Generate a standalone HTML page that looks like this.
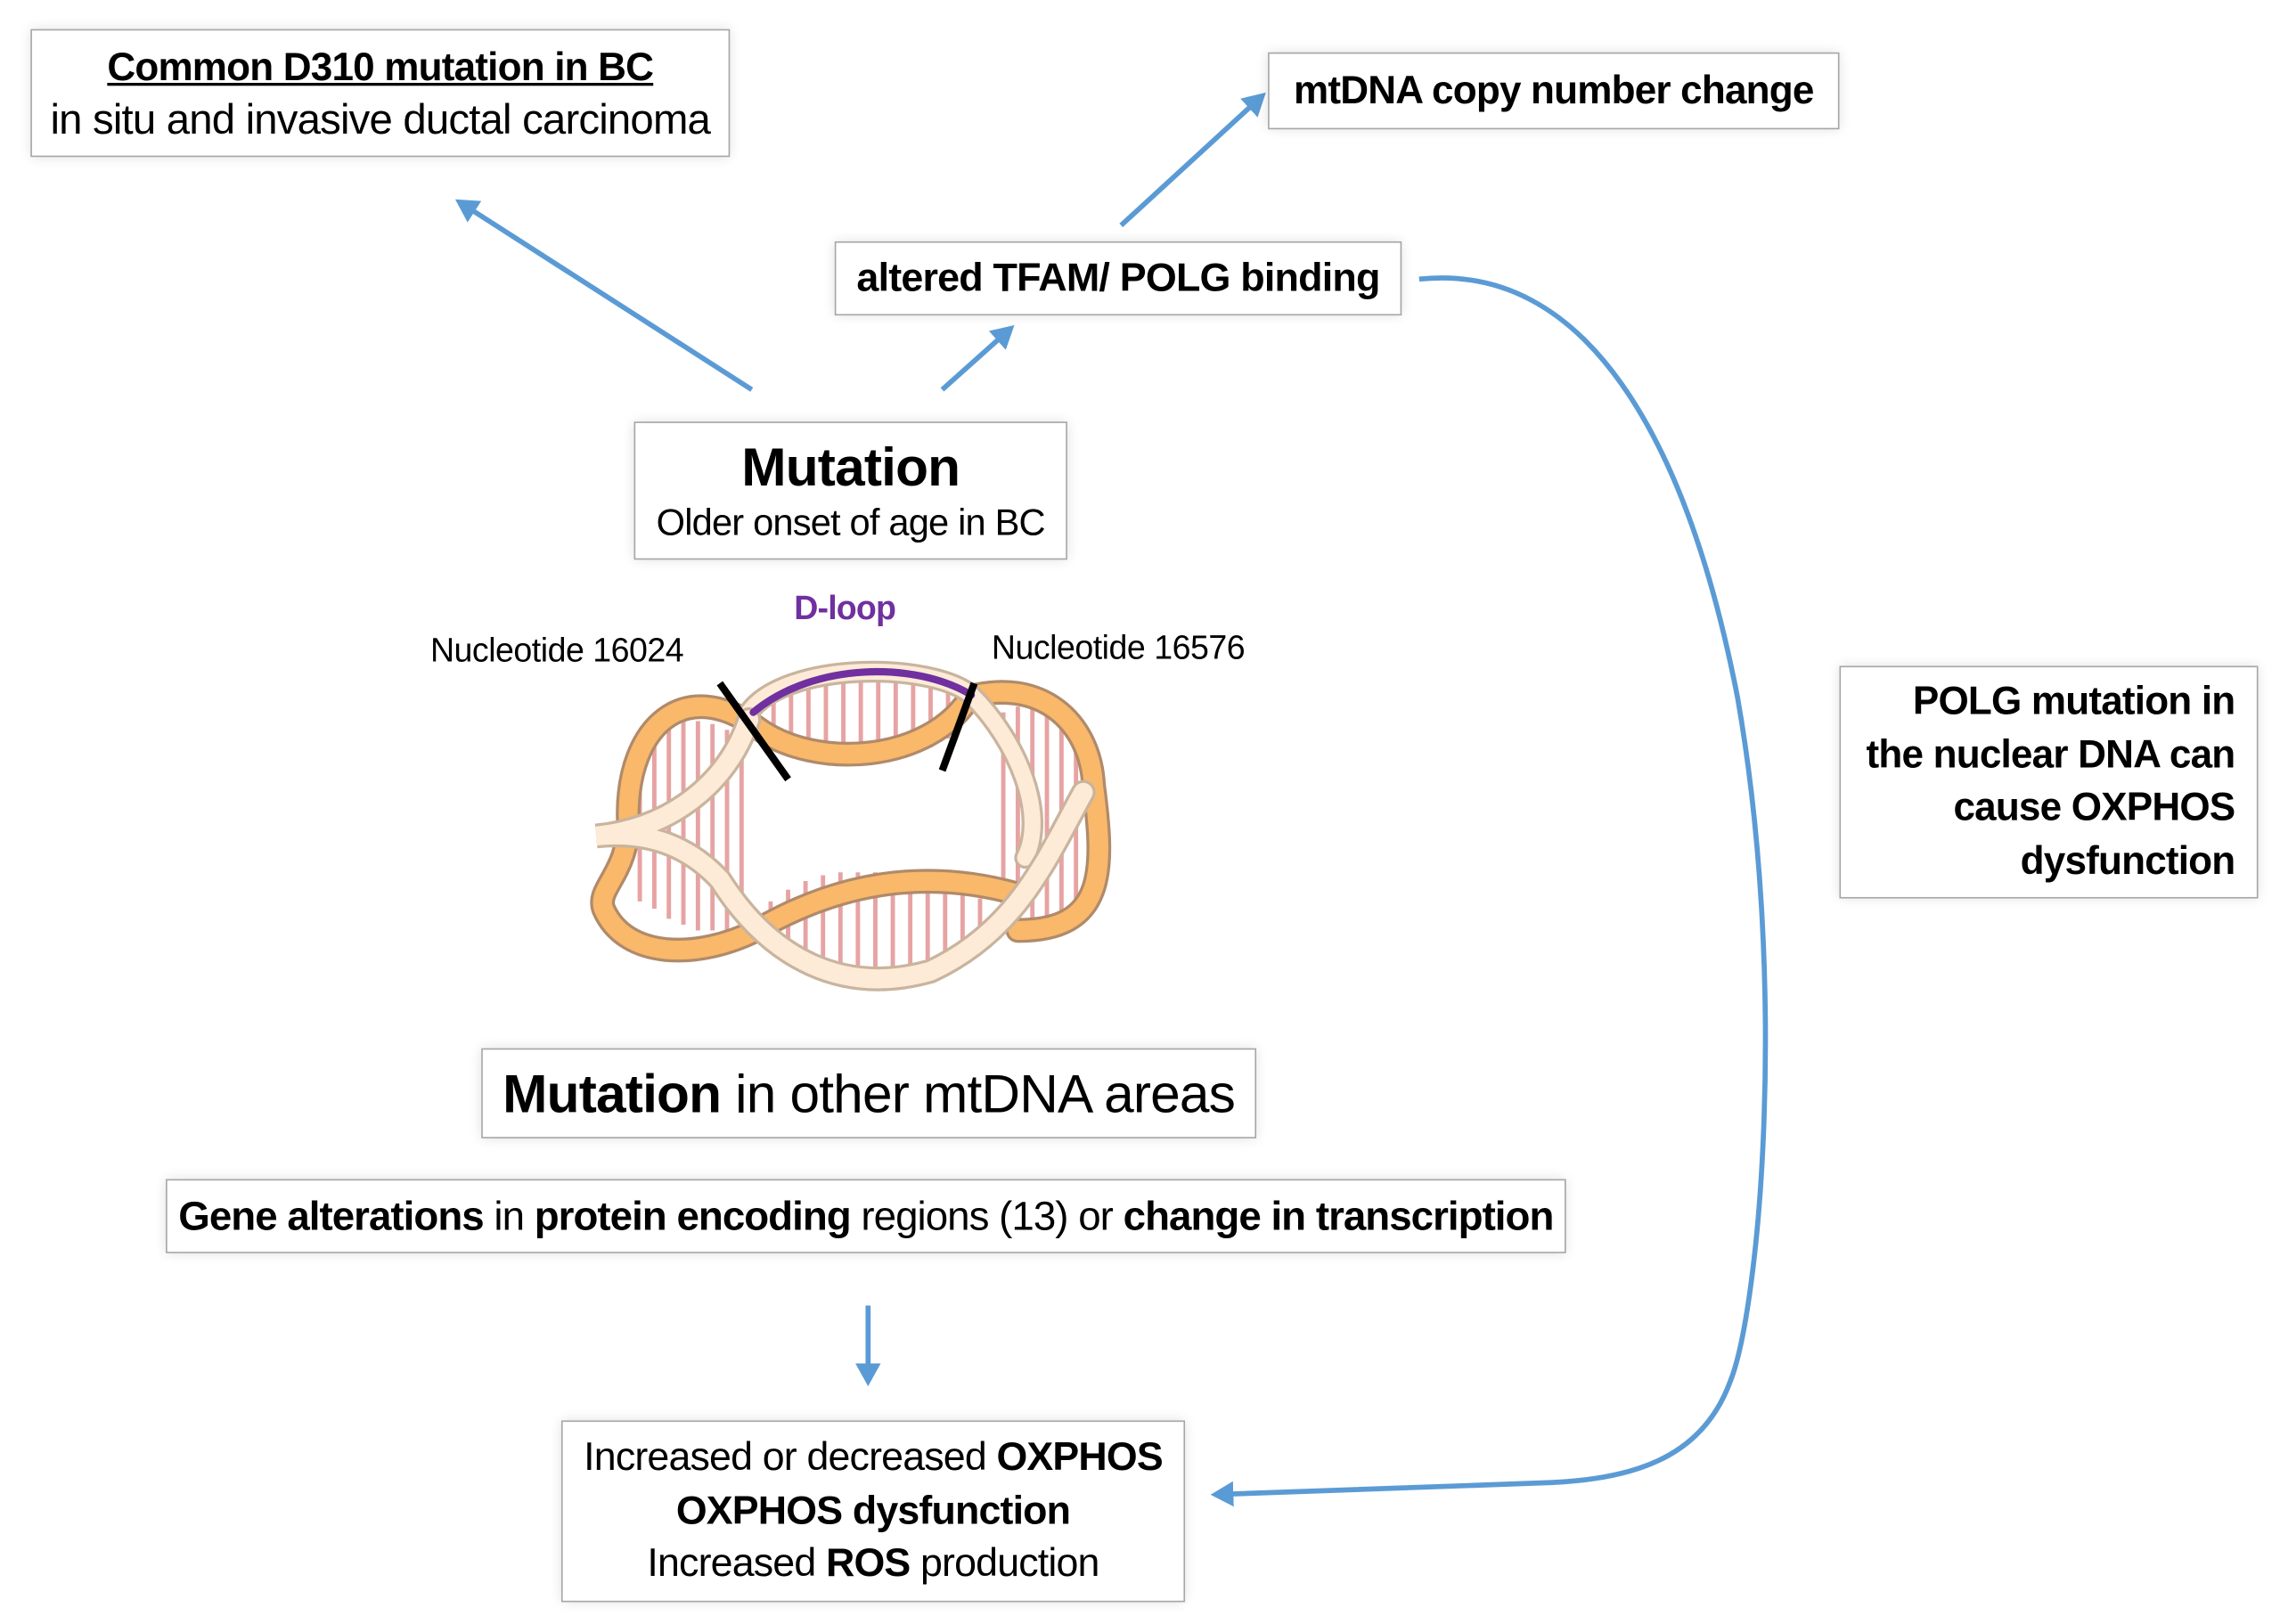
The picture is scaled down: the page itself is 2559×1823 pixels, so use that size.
<!DOCTYPE html>
<html><head><meta charset="utf-8"><style>
html,body{margin:0;padding:0;background:#fff;}
body{width:2559px;height:1822px;overflow:hidden;position:relative;}
#w{position:absolute;left:0;top:0;width:1568px;height:1117px;transform:scale(1.632);transform-origin:0 0;font-family:"Liberation Sans",sans-serif;color:#000;}
.b{position:absolute;box-sizing:border-box;border:1.5px solid #a6a6a6;background:#fff;box-shadow:0 0 8px rgba(0,0,0,0.12);text-align:center;}
.t{position:absolute;left:0;right:0;white-space:nowrap;letter-spacing:-0.5px;}
svg{position:absolute;left:0;top:0;}
</style></head><body><div id="w">
<svg width="1568" height="1117" viewBox="0 0 1568 1117">
<defs><marker id="a" markerWidth="5" markerHeight="5" refX="3.5" refY="2.5" orient="auto" markerUnits="strokeWidth"><path d="M0,0 L4.5,2.5 L0,5 z" fill="#5b9bd5"/></marker></defs>
<g stroke="#5b9bd5" stroke-width="3.5" fill="none">
<line x1="517" y1="268" x2="316" y2="139" marker-end="url(#a)"/>
<line x1="648" y1="268" x2="695" y2="226" marker-end="url(#a)"/>
<line x1="771" y1="155" x2="868" y2="66" marker-end="url(#a)"/>
<line x1="597" y1="898" x2="597" y2="950" marker-end="url(#a)"/>
<path d="M976 192 C1090 180 1160 300 1195 480 C1230 680 1210 900 1190 950 C1170 1005 1120 1018 1060 1020 L836 1028" marker-end="url(#a)"/>
</g>
<!-- DNA -->
<g stroke-width="3" stroke="#e7a3a3">
<path d="M532 478V515M544 470V518M556 466V520M568 464V522M580 463V522M592 463V522M604 464V522M616 466V520M628 468V518M640 472V514M652 476V508"/>
<path d="M440 520V620M450 508V625M460 500V632M470 496V636M480 496V640M490 498V640M500 502V640M510 510V640"/>
<path d="M530 620V655M542 612V660M554 606V664M566 602V666M578 600V668M590 600V668M602 600V668M614 602V666M626 604V664M638 606V660M650 610V656M662 614V650M674 618V644"/>
<path d="M690 490V620M700 486V630M710 486V636M720 488V636M730 492V632M740 500V625M750 510V610"/>
</g>
<g fill="none" stroke-linecap="round">
<path d="M668 478 C640 525 560 530 520 500 C470 465 432 500 432 560 C434 600 410 610 415 625 C430 660 480 660 520 640 C580 605 640 598 700 615" stroke="#b08a6a" stroke-width="17"/>
<path d="M668 478 C640 525 560 530 520 500 C470 465 432 500 432 560 C434 600 410 610 415 625 C430 660 480 660 520 640 C580 605 640 598 700 615" stroke="#f9b86a" stroke-width="13"/>
<path d="M672 478 C720 468 750 500 752 540 C760 600 760 640 700 640" stroke="#b08a6a" stroke-width="17"/>
<path d="M672 478 C720 468 750 500 752 540 C760 600 760 640 700 640" stroke="#f9b86a" stroke-width="13"/>
<path d="M515 490 C540 455 640 455 668 478 C700 510 720 560 705 590" stroke="#c9b49e" stroke-width="15"/>
<path d="M515 490 C540 455 640 455 668 478 C700 510 720 560 705 590" stroke="#fdebd8" stroke-width="11"/>
<path d="M745 545 C720 590 700 640 640 668 C580 685 530 660 495 605 C470 578 440 572 410 575 C460 570 500 540 515 495" stroke="#c9b49e" stroke-width="17"/>
<path d="M745 545 C720 590 700 640 640 668 C580 685 530 660 495 605 C470 578 440 572 410 575 C460 570 500 540 515 495" stroke="#fdebd8" stroke-width="13"/>
<path d="M518 490 C560 455 630 455 668 478" stroke="#7030a0" stroke-width="5"/>
</g>
<line x1="495" y1="470" x2="542" y2="536" stroke="#000" stroke-width="5"/>
<line x1="670" y1="470" x2="648" y2="530" stroke="#000" stroke-width="5"/>
<text x="581" y="426" text-anchor="middle" font-family="Liberation Sans" font-weight="bold" font-size="23" fill="#7030a0" letter-spacing="-0.5">D-loop</text>
<text x="383" y="455" text-anchor="middle" font-family="Liberation Sans" font-size="23" letter-spacing="-0.3">Nucleotide 16024</text>
<text x="769" y="453" text-anchor="middle" font-family="Liberation Sans" font-size="23" letter-spacing="-0.3">Nucleotide 16576</text>
</svg>

<div class="b" style="left:21px;top:20px;width:481px;height:88px;">
<div class="t" style="top:10px;font-size:27px;line-height:30px;font-weight:bold;text-decoration:underline;">Common D310 mutation in BC</div>
<div class="t" style="top:46px;font-size:29px;line-height:32px;">in situ and invasive ductal carcinoma</div></div>
<div class="b" style="left:872px;top:36px;width:393px;height:53px;">
<div class="t" style="top:10px;font-size:27px;line-height:30px;font-weight:bold;">mtDNA copy number change</div></div>
<div class="b" style="left:574px;top:166px;width:390px;height:51px;">
<div class="t" style="top:9px;font-size:27.5px;line-height:30px;font-weight:bold;">altered TFAM/ POLG binding</div></div>
<div class="b" style="left:436px;top:290px;width:298px;height:95px;">
<div class="t" style="top:11px;font-size:37px;line-height:40px;font-weight:bold;">Mutation</div>
<div class="t" style="top:55px;font-size:25.5px;line-height:28px;">Older onset of age in BC</div></div>
<div class="b" style="left:331px;top:721px;width:533px;height:62px;">
<div class="t" style="top:11px;font-size:37px;line-height:40px;"><b>Mutation</b> in other mtDNA areas</div></div>
<div class="b" style="left:114px;top:811px;width:963px;height:51px;">
<div class="t" style="top:10px;font-size:28px;line-height:30px;letter-spacing:-0.6px;"><b>Gene alterations</b> in <b>protein encoding</b> regions (13) or <b>change in transcription</b></div></div>
<div class="b" style="left:386px;top:977px;width:429px;height:125px;">
<div class="t" style="top:9px;font-size:27.4px;line-height:30px;">Increased or decreased <b>OXPHOS</b></div>
<div class="t" style="top:46px;font-size:27.4px;line-height:30px;font-weight:bold;">OXPHOS dysfunction</div>
<div class="t" style="top:82px;font-size:27.4px;line-height:30px;">Increased <b>ROS</b> production</div></div>
<div class="b" style="left:1265px;top:458px;width:288px;height:160px;text-align:right;">
<div style="position:absolute;right:15px;top:5px;font-size:27px;font-weight:bold;line-height:36.5px;letter-spacing:-0.5px;white-space:nowrap;">POLG mutation in<br>the nuclear DNA can<br>cause OXPHOS<br>dysfunction</div></div>
</div></body></html>
